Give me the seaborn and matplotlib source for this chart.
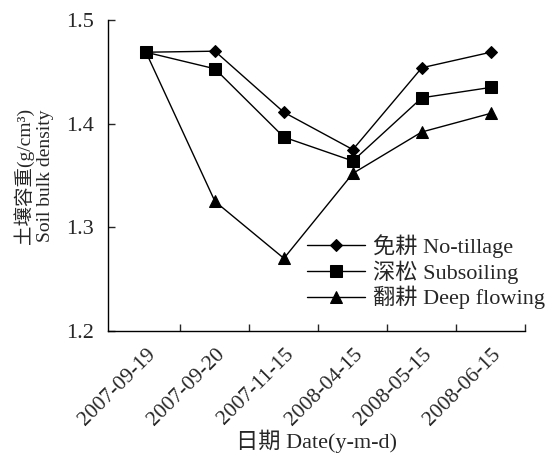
import matplotlib
matplotlib.use("Agg")
import matplotlib.pyplot as plt
import seaborn as sns
import pandas as pd

dates = ["2007-09-19", "2007-09-20", "2007-11-15", "2008-04-15", "2008-05-15", "2008-06-15"]
no_tillage = [1.469, 1.470, 1.411, 1.375, 1.454, 1.469]
subsoiling = [1.469, 1.453, 1.387, 1.364, 1.425, 1.435]
deep_flowing = [1.469, 1.325, 1.270, 1.352, 1.392, 1.410]
series_names = ["免耕 No-tillage", "深松 Subsoiling", "翻耕 Deep flowing"]
yticks = [1.2, 1.3, 1.4, 1.5]

sns.set_style("ticks")
plt.rcParams['font.family'] = ['Liberation Serif', 'Noto Sans CJK SC']

rows = []
for name, vals in zip(series_names, [no_tillage, subsoiling, deep_flowing]):
    for d, v in zip(dates, vals):
        rows.append({"date": d, "value": v, "series": name})
df = pd.DataFrame(rows)

fig = plt.figure(figsize=(5.57, 4.57), dpi=100)
ax = fig.add_axes([0.194, 0.276, 0.749, 0.680])

markers = {series_names[0]: "D", series_names[1]: "s", series_names[2]: "^"}
sizes = {series_names[0]: 6.5, series_names[1]: 9, series_names[2]: 9}
for name in series_names:
    sub = df[df.series == name]
    sns.lineplot(data=sub, x="date", y="value", ax=ax, color="black", lw=1.0,
                 marker=markers[name], markersize=sizes[name], markeredgecolor="black",
                 markerfacecolor="black", label=name, sort=False)

ax.set_xlim(-0.55, 5.45)
ax.set_ylim(1.2, 1.5)
ax.set_yticks(yticks)
ax.set_yticklabels([f"{t:.1f}" for t in yticks], fontsize=16)
ax.set_xticks(range(len(dates)))
ax.set_xticklabels(dates, rotation=45, ha="right", rotation_mode="anchor", fontsize=15.5)
ax.tick_params(axis="x", which="major", length=0, pad=10)
ax.set_xticks([i + 0.5 for i in range(len(dates))], minor=True)
ax.tick_params(axis="x", which="minor", direction="in", length=5, width=1)
ax.tick_params(axis="y", direction="in", length=5, width=1, pad=10)
for s in ["top", "right"]:
    ax.spines[s].set_visible(False)
for s in ["left", "bottom"]:
    ax.spines[s].set_linewidth(1.0)
    ax.spines[s].set_color("black")

ax.set_xlabel("日期 Date(y-m-d)", fontsize=16, labelpad=0)
ax.set_ylabel("土壤容重(g/cm³)\nSoil bulk density", fontsize=14, labelpad=9, linespacing=1.2)

leg = ax.legend(loc="lower right", bbox_to_anchor=(1.095, 0.005), frameon=False,
                fontsize=16, handlelength=2.6, handletextpad=0.35, labelspacing=0.1)

fig.savefig("out.png", dpi=100)
